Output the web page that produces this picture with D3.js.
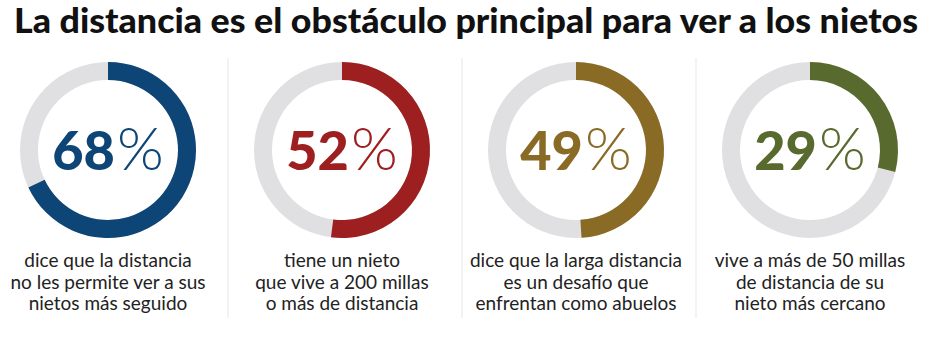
<!DOCTYPE html>
<html>
<head>
<meta charset="utf-8">
<script src="https://cdn.jsdelivr.net/npm/d3@7"></script>
<style>
  html, body { margin: 0; padding: 0; background: #fff; }
  svg { display: block; }
</style>
</head>
<body>
<svg id="chart" width="932" height="348"></svg>
<script>
// Survey results: share of grandparents for each statement
const titleText = "La distancia es el obstáculo principal para ver a los nietos";
const values = [68, 52, 49, 29];
const colors = ["#0e4577", "#9e1f20", "#8a6b26", "#586a2d"];
const captions = [
  ["dice que la distancia", "no les permite ver a sus", "nietos más seguido"],
  ["tiene un nieto", "que vive a 200 millas", "o más de distancia"],
  ["dice que la larga distancia", "es un desafío que", "enfrentan como abuelos"],
  ["vive a más de 50 millas", "de distancia de su", "nieto más cercano"]
];

const W = 932, H = 348;
const svg = d3.select("#chart");

svg.append("text")
  .attr("x", 14)
  .attr("y", 33)
  .attr("textLength", 904)
  .attr("lengthAdjust", "spacingAndGlyphs")
  .style("font-family", "Lato, 'Open Sans', sans-serif")
  .style("font-weight", 900)
  .style("font-size", "34px")
  .style("fill", "#111")
  .text(titleText);

// one panel per statement
const x = d3.scalePoint()
  .domain(d3.range(values.length))
  .range([108, 810]);

const angle = d3.scaleLinear().domain([0, 100]).range([0, 2 * Math.PI]);
const rOuter = 88, rInner = 70, cy = 150;
const arc = d3.arc().innerRadius(rInner).outerRadius(rOuter);

// faint dividers between panels
const dividers = d3.range(values.length - 1).map(i => (x(i) + x(i + 1)) / 2 + 3);
svg.selectAll("line.divider")
  .data(dividers)
  .join("line")
  .attr("class", "divider")
  .attr("x1", d => d).attr("x2", d => d)
  .attr("y1", 58).attr("y2", 318)
  .attr("stroke", "#efefef")
  .attr("stroke-width", 1.5);

const panels = svg.selectAll("g.panel")
  .data(values)
  .join("g")
  .attr("class", "panel")
  .attr("transform", (d, i) => `translate(${x(i)},${cy})`);

panels.append("path")
  .attr("d", arc({ startAngle: 0, endAngle: 2 * Math.PI }))
  .attr("fill", "#e0e0e2");

panels.append("path")
  .attr("d", d => arc({ startAngle: 0, endAngle: angle(d) }))
  .attr("fill", (d, i) => colors[i]);

const label = panels.append("text")
  .attr("y", 20)
  .attr("text-anchor", "middle")
  .style("font-family", "Lato, sans-serif")
  .style("fill", (d, i) => colors[i]);

label.append("tspan")
  .style("font-weight", 900)
  .style("font-size", "54px")
  .text(d => d);

label.append("tspan")
  .style("font-weight", 300)
  .style("font-size", "60px")
  .attr("dx", 2)
  .text("%");

const cap = panels.append("text")
  .attr("text-anchor", "middle")
  .style("font-family", "Lato, sans-serif")
  .style("font-size", "19px")
  .style("fill", "#222");

cap.selectAll("tspan")
  .data((d, i) => captions[i])
  .join("tspan")
  .attr("x", 0)
  .attr("y", (d, j) => 117 + j * 21.5)
  .text(d => d);
</script>
</body>
</html>
